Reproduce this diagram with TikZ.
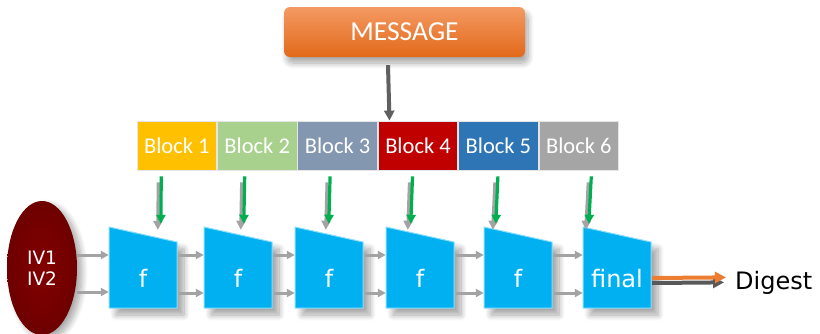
\documentclass[tikz,border=0pt]{standalone}
\usepackage{fontspec}
\setmainfont{Carlito}
\newfontfamily\dejavu{DejaVu Sans}
\usetikzlibrary{positioning,shapes.geometric,shadows.blur,arrows.meta}

\definecolor{msgtop}{HTML}{F49A62}
\definecolor{msgbot}{HTML}{E2691A}
\definecolor{blkone}{HTML}{FFC000}
\definecolor{blktwo}{HTML}{A9D18E}
\definecolor{blkthree}{HTML}{8497B0}
\definecolor{blkfour}{HTML}{C00000}
\definecolor{blkfive}{HTML}{2E75B6}
\definecolor{blksix}{HTML}{A5A5A5}
\definecolor{fblue}{HTML}{00B0F0}
\definecolor{fedge}{HTML}{8ADFFF}
\definecolor{ivin}{HTML}{820000}
\definecolor{ivout}{HTML}{6E0000}
\definecolor{arrgray}{HTML}{A3A3A3}
\definecolor{feedgreen}{HTML}{00B050}
\definecolor{digorange}{HTML}{ED7D31}

\tikzset{
  block/.style={rectangle, draw=white!80!gray, line width=0.8pt, minimum width=79.6pt,
    minimum height=49pt, inner sep=0pt, text=white, font=\fontsize{22.5}{26}\selectfont},
  fbox/.style={rectangle, minimum width=68pt, minimum height=81pt, inner sep=0pt,
    text height=39pt, text depth=0pt, text=white, font=\dejavu\fontsize{24}{24}\selectfont},
  fshape/.style={fill=fblue, draw=fedge, line width=1pt,
    blur shadow={shadow xshift=7pt, shadow yshift=-7pt, shadow blur radius=6pt,
      shadow blur steps=10, shadow opacity=35}},
  link/.style={-{Triangle[length=8pt,width=8pt]}, arrgray, line width=3pt},
  feed/.style={-{Triangle[length=9pt,width=9pt]}, feedgreen, line width=3.2pt},
  feedshade/.style={-{Triangle[length=9pt,width=9pt]}, arrgray, line width=3.2pt},
}

% one compression stage: node name, left edge, label
\newcommand{\fstage}[3]{%
  \path[fshape] (#2,227) -- (#2+68,242) -- (#2+68,308) -- (#2,308) -- cycle;
  \node[fbox] (#1) at (#2+34,267.5) {#3};
}

\begin{document}
\begin{tikzpicture}[x=1pt, y=-1pt]
    \useasboundingbox (0,0) rectangle (820,333);

    % Message and its blocks
    \node (msg) [rounded corners=6pt, top color=msgtop, bottom color=msgbot,
      minimum width=241pt, minimum height=50pt, text=white, font=\fontsize{27.5}{30}\selectfont,
      blur shadow={shadow xshift=3pt, shadow yshift=-6pt, shadow blur radius=6pt,
        shadow blur steps=10, shadow opacity=35}]
      at (404.5,32) {MESSAGE};

    \node (b1) [block, fill=blkone] at (176.8,145.5) {Block 1};
    \node (b2) [block, fill=blktwo, right=0pt of b1] {Block 2};
    \node (b3) [block, fill=blkthree, right=0pt of b2] {Block 3};
    \node (b4) [block, fill=blkfour, right=0pt of b3] {Block 4};
    \node (b5) [block, fill=blkfive, right=0pt of b4] {Block 5};
    \node (b6) [block, fill=blksix, right=0pt of b5] {Block 6};

    \draw[-{Triangle[length=10pt,width=10pt]}, gray!75!black, line width=4pt]
      ([xshift=-16.5pt,yshift=-8pt]msg.south) -- ([xshift=-28.5pt]b4.north);

    % Compression stages
    \fstage{f1}{109}{f}
    \fstage{f2}{204}{f}
    \fstage{f3}{295}{f}
    \fstage{f4}{386}{f}
    \fstage{f5}{484}{f}
    \fstage{f6}{583}{final}

    \node (iv) [ellipse, inner color=ivin, outer color=ivout, minimum width=70pt,
      minimum height=134pt, inner sep=0pt, text=white, align=center,
      font=\dejavu\fontsize{18.5}{21}\selectfont,
      blur shadow={shadow xshift=5pt, shadow yshift=-4pt, shadow blur radius=6pt,
        shadow blur steps=10, shadow opacity=35}]
      at (42,268) {IV1\\IV2};

    \node (digest) [anchor=base west, inner sep=2pt, font=\dejavu\fontsize{24}{24}\selectfont]
      at (733,289) {Digest};

    % Blocks feeding the stages
    \draw[feedshade] ([xshift=-18.5pt,yshift=-12pt]b1.south) -- ([xshift=49pt,yshift=-3pt]f1.north west);
    \draw[feed] ([xshift=-15.5pt,yshift=-6pt]b1.south) -- ([xshift=52pt,yshift=3pt]f1.north west);
    \draw[feedshade] ([xshift=-15.5pt,yshift=-12pt]b2.south) -- ([xshift=37pt,yshift=-3pt]f2.north west);
    \draw[feed] ([xshift=-12.5pt,yshift=-6pt]b2.south) -- ([xshift=40pt,yshift=3pt]f2.north west);
    \draw[feedshade] ([xshift=-10.5pt,yshift=-12pt]b3.south) -- ([xshift=31pt,yshift=-3pt]f3.north west);
    \draw[feed] ([xshift=-7.5pt,yshift=-6pt]b3.south) -- ([xshift=34pt,yshift=3pt]f3.north west);
    \draw[feedshade] ([xshift=-8.5pt,yshift=-12pt]b4.south) -- ([xshift=22pt,yshift=-3pt]f4.north west);
    \draw[feed] ([xshift=-5.5pt,yshift=-6pt]b4.south) -- ([xshift=25pt,yshift=3pt]f4.north west);
    \draw[feedshade] ([xshift=-3.5pt,yshift=-12pt]b5.south) -- ([xshift=9pt,yshift=-3pt]f5.north west);
    \draw[feed] ([xshift=-0.5pt,yshift=-6pt]b5.south) -- ([xshift=12pt,yshift=3pt]f5.north west);
    \draw[feedshade] ([xshift=9.5pt,yshift=-12pt]b6.south) -- ([xshift=3pt,yshift=-3pt]f6.north west);
    \draw[feed] ([xshift=12.5pt,yshift=-6pt]b6.south) -- ([xshift=6pt,yshift=3pt]f6.north west);

    % Chaining values
    \draw[link] ([yshift=13pt]iv.east) -- ([yshift=12.5pt]f1.west);
    \draw[link] ([yshift=-24pt]iv.east) -- ([yshift=-24.5pt]f1.west);
    \draw[link] ([xshift=2pt,yshift=12.5pt]f1.east) -- ([yshift=12.5pt]f2.west);
    \draw[link] ([xshift=2pt,yshift=-25.5pt]f1.east) -- ([yshift=-25.5pt]f2.west);
    \draw[link] ([xshift=2pt,yshift=12.5pt]f2.east) -- ([yshift=12.5pt]f3.west);
    \draw[link] ([xshift=2pt,yshift=-25.5pt]f2.east) -- ([yshift=-25.5pt]f3.west);
    \draw[link] ([xshift=2pt,yshift=12.5pt]f3.east) -- ([yshift=12.5pt]f4.west);
    \draw[link] ([xshift=2pt,yshift=-25.5pt]f3.east) -- ([yshift=-25.5pt]f4.west);
    \draw[link] ([xshift=2pt,yshift=12.5pt]f4.east) -- ([yshift=12.5pt]f5.west);
    \draw[link] ([xshift=2pt,yshift=-25.5pt]f4.east) -- ([yshift=-25.5pt]f5.west);
    \draw[link] ([xshift=2pt,yshift=12.5pt]f5.east) -- ([yshift=12.5pt]f6.west);
    \draw[link] ([xshift=2pt,yshift=-25.5pt]f5.east) -- ([yshift=-25.5pt]f6.west);

    % Output
    \draw[-{Triangle[length=11pt,width=11pt]}, gray!70!black, line width=4pt]
      ([xshift=1pt,yshift=-15.5pt]f6.east) -- ([xshift=-9pt]digest.west);
    \draw[-{Triangle[length=11pt,width=11pt]}, digorange, line width=4pt]
      ([xshift=1pt,yshift=-10.5pt]f6.east) -- ([xshift=-7pt,yshift=5pt]digest.west);

\end{tikzpicture}
\end{document}
